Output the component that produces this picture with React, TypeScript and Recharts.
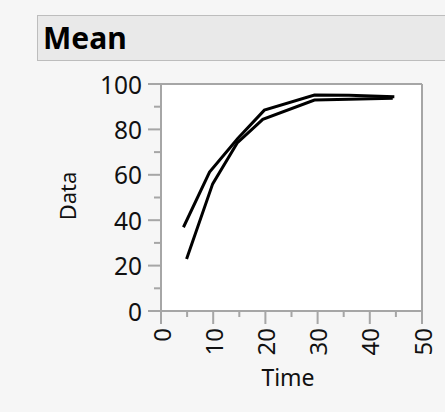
import { LineChart, Line, XAxis, YAxis, CartesianGrid, ReferenceLine, Label } from "recharts";

// two mean curves
const timeA = [4.3, 9.3, 14.7, 19.8, 29.4, 36, 44.7];
const meanA = [36.9, 61.2, 76, 88.5, 95.1, 95, 94.4];
const timeB = [4.9, 9.9, 14.6, 19.5, 29.4, 36, 44.4];
const meanB = [22.9, 56, 74, 84.4, 92.9, 93.3, 93.7];

const xTicks = [0, 5, 10, 15, 20, 25, 30, 35, 40, 45, 50];
const yTicks = [0, 10, 20, 30, 40, 50, 60, 70, 80, 90, 100];

const seriesA = timeA.map((t, i) => ({ t, v: meanA[i] }));
const seriesB = timeB.map((t, i) => ({ t, v: meanB[i] }));

const AXIS = "#a6a6a6";
const FONT = "'Noto Sans', 'Open Sans', sans-serif";

const XTick = (props: any) => {
  const { x, y, payload } = props;
  const major = payload.value % 10 === 0;
  return (
    <g>
      <line x1={x} y1={y} x2={x} y2={y + (major ? 13 : 6)} stroke={AXIS} strokeWidth={2} />
      {major && (
        <text
          x={x}
          y={y + 17}
          transform={`rotate(-90, ${x}, ${y + 17})`}
          textAnchor="end"
          dominantBaseline="central"
          fontSize={24}
          fontFamily={FONT}
          fill="#111"
        >
          {payload.value}
        </text>
      )}
    </g>
  );
};

const YTick = (props: any) => {
  const { x, y, payload } = props;
  const major = payload.value % 20 === 0;
  return (
    <g>
      <line x1={x} y1={y} x2={x - (major ? 13 : 7)} y2={y} stroke={AXIS} strokeWidth={2} />
      {major && (
        <text
          x={x - 19}
          y={y}
          textAnchor="end"
          dominantBaseline="central"
          fontSize={24.5}
          fontFamily={FONT}
          fill="#111"
        >
          {payload.value}
        </text>
      )}
    </g>
  );
};

export default function App() {
  return (
    <div
      style={{
        position: "absolute",
        left: 0,
        top: 0,
        width: 445,
        height: 412,
        background: "#f6f6f6",
        overflow: "hidden",
      }}
    >
      <div
        style={{
          position: "absolute",
          left: 37,
          top: 15,
          width: 420,
          height: 44,
          background: "#e9e9e9",
          border: "1px solid #bdbdbd",
          fontFamily: FONT,
          fontWeight: 700,
          fontSize: 30,
          lineHeight: "44px",
          paddingLeft: 5,
          color: "#000",
        }}
      >
        Mean
      </div>
      <LineChart
        width={445}
        height={412}
        margin={{ top: 84, right: 23, left: 101, bottom: 41 }}
        style={{ position: "absolute", left: 0, top: 0 }}
      >
        <CartesianGrid horizontal={false} vertical={false} fill="#ffffff" />
        <XAxis
          type="number"
          dataKey="t"
          domain={[0, 50]}
          ticks={xTicks}
          interval={0}
          height={60}
          tickSize={0}
          tickMargin={0}
          tickLine={false}
          axisLine={{ stroke: AXIS, strokeWidth: 2 }}
          tick={<XTick />}
        >
          <Label
            content={() => (
              <text x={288} y={377} textAnchor="middle" dominantBaseline="central" fontSize={23} fontFamily={FONT} fill="#111">
                Time
              </text>
            )}
          />
        </XAxis>
        <YAxis
          type="number"
          domain={[0, 100]}
          ticks={yTicks}
          interval={0}
          width={60}
          tickSize={0}
          tickMargin={0}
          tickLine={false}
          axisLine={{ stroke: AXIS, strokeWidth: 2 }}
          tick={<YTick />}
        >
          <Label
            content={() => (
              <text
                x={67}
                y={196}
                transform="rotate(-90, 67, 196)"
                textAnchor="middle"
                dominantBaseline="central"
                fontSize={22}
                fontFamily={FONT}
                fill="#111"
              >
                Data
              </text>
            )}
          />
        </YAxis>
        <ReferenceLine y={100} stroke={AXIS} strokeWidth={2} />
        <ReferenceLine x={50} stroke={AXIS} strokeWidth={2} />
        <Line data={seriesA} dataKey="v" type="linear" stroke="#000" strokeWidth={3} dot={false} isAnimationActive={false} />
        <Line data={seriesB} dataKey="v" type="linear" stroke="#000" strokeWidth={3} dot={false} isAnimationActive={false} />
      </LineChart>
    </div>
  );
}
